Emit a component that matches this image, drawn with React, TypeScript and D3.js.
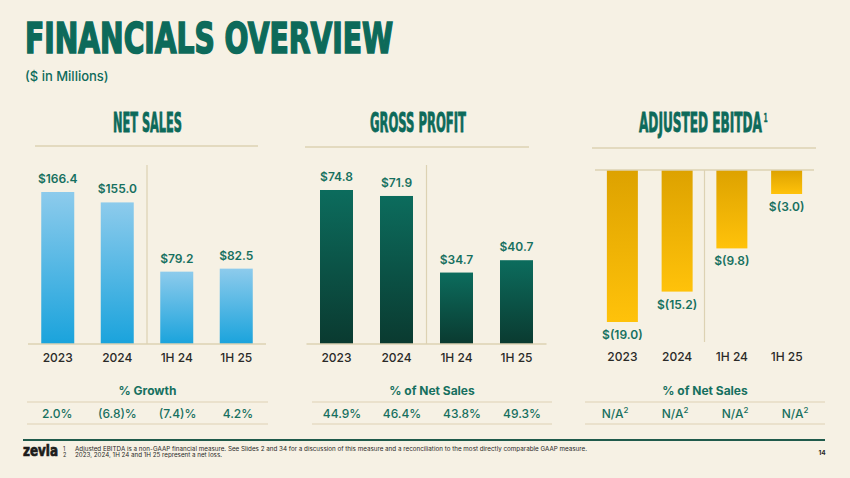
import React, { useLayoutEffect, useRef, useState } from "react";
import * as d3 from "d3";

const categories = ["2023", "2024", "1H 24", "1H 25"];
const netSales = [166.4, 155.0, 79.2, 82.5];
const grossProfit = [74.8, 71.9, 34.7, 40.7];
const adjEbitda = [-19.0, -15.2, -9.8, -3.0];
const growthLabels = ["2.0%", "(6.8)%", "(7.4)%", "4.2%"];
const gpMarginLabels = ["44.9%", "46.4%", "43.8%", "49.3%"];
const ebitdaMarginLabels = ["N/A", "N/A", "N/A", "N/A"];

const BG = "#f6f1e4";
const TEAL = "#0d6a5a";
const LABEL = "#16705f";
const DARK = "#2a2a28";
const TAN = "#ddd2b3";
const SANS = "Inter, 'Noto Sans', sans-serif";
const COND = "'Liberation Sans Narrow', 'Arial Narrow', 'DejaVu Sans Condensed', sans-serif";

const fmtPos = (v: number) => `$${v.toFixed(1)}`;
const fmtNeg = (v: number) => `$(${Math.abs(v).toFixed(1)})`;

type CondProps = {
  x: number;
  y: number;
  width: number;
  size: number;
  fill: string;
  strokeW: number;
  text: string;
  sup?: string;
};

function CondText(p: CondProps) {
  const ref = useRef<SVGTSpanElement>(null);
  const [k, setK] = useState(0.55);
  useLayoutEffect(() => {
    const el = ref.current;
    if (el) {
      const w = el.getComputedTextLength();
      if (w > 0) {
        const nk = p.width / w;
        if (Math.abs(nk - k) > 0.001) setK(nk);
      }
    }
  });
  return (
    <g transform={`translate(${p.x},${p.y}) scale(${k},1)`}>
      <text
        x={0}
        y={0}
        fontFamily={COND}
        fontWeight={700}
        fontSize={p.size}
        fill={p.fill}
        stroke={p.fill}
        strokeWidth={p.strokeW}
      >
        <tspan ref={ref}>{p.text}</tspan>
        {p.sup && (
          <tspan fontSize={p.size * 0.5} dx={p.size * 0.12} dy={-p.size * 0.38} strokeWidth={0.3}>
            {p.sup}
          </tspan>
        )}
      </text>
    </g>
  );
}

type PanelProps = {
  id: string;
  title: string;
  titleSup?: string;
  titleX: number;
  titleW: number;
  sepX: [number, number];
  sepY: number;
  range: [number, number];
  bw: number;
  values: number[];
  y: d3.ScaleLinear<number, number>;
  baseY: number;
  divTop: number;
  divBottom: number;
  grad: [string, string];
  negative?: boolean;
  catY: number;
  tableRange: [number, number];
  tableHeader: string;
  tableLabels: string[];
  tableSup?: string;
};

function Panel(p: PanelProps) {
  const step = (p.range[1] - p.range[0]) / 4;
  const pin = 1 - p.bw / step;
  const x = d3
    .scaleBand<string>()
    .domain(categories)
    .range(p.range)
    .paddingInner(pin)
    .paddingOuter(pin / 2);
  const divX = ((x(categories[1])! + x.bandwidth()) + x(categories[2])!) / 2;
  const tx = d3.scaleBand<string>().domain(categories).range(p.tableRange);
  const tableMid = (p.tableRange[0] + p.tableRange[1]) / 2;
  return (
    <g>
      <defs>
        <linearGradient id={p.id} x1="0" y1="0" x2="0" y2="1">
          <stop offset="0%" stopColor={p.grad[0]} />
          <stop offset="100%" stopColor={p.grad[1]} />
        </linearGradient>
      </defs>
      <CondText
        x={p.titleX}
        y={132}
        width={p.titleW}
        size={26}
        fill={TEAL}
        strokeWidth={0.6}
        strokeW={0.8}
        text={p.title}
        sup={p.titleSup}
      />
      <line x1={p.sepX[0]} x2={p.sepX[1]} y1={p.sepY} y2={p.sepY} stroke={TAN} strokeWidth={1.5} />
      <line x1={divX} x2={divX} y1={p.divTop} y2={p.divBottom} stroke={TAN} strokeWidth={1.2} />
      {p.values.map((v, i) => {
        const c = categories[i];
        const y0 = p.y(0);
        const y1 = p.y(v);
        const top = Math.min(y0, y1);
        const h = Math.abs(y1 - y0);
        const cx = x(c)! + x.bandwidth() / 2;
        return (
          <g key={c}>
            <rect x={x(c)} y={top} width={x.bandwidth()} height={h} fill={`url(#${p.id})`} />
            <text
              x={cx}
              y={p.negative ? y1 + 17 : y1 - 9}
              textAnchor="middle"
              fontFamily={SANS}
              fontWeight={600}
              fontSize={12}
              fill={LABEL}
            >
              {p.negative ? fmtNeg(v) : fmtPos(v)}
            </text>
            <text x={cx} y={p.catY} textAnchor="middle" fontFamily={SANS} fontWeight={500} fontSize={12} fill={DARK}>
              {c}
            </text>
          </g>
        );
      })}
      <line
        x1={p.range[0]}
        x2={p.range[1]}
        y1={p.baseY}
        y2={p.baseY}
        stroke={TAN}
        strokeWidth={1.5}
      />
      <text x={tableMid} y={395} textAnchor="middle" fontFamily={SANS} fontWeight={700} fontSize={12} fill={LABEL}>
        {p.tableHeader}
      </text>
      <line x1={p.tableRange[0]} x2={p.tableRange[1]} y1={402} y2={402} stroke={TAN} strokeWidth={1.2} />
      <line x1={p.tableRange[0]} x2={p.tableRange[1]} y1={424} y2={424} stroke={TAN} strokeWidth={1.2} />
      {p.tableLabels.map((t, i) => {
        const c = categories[i];
        const cx = tx(c)! + tx.bandwidth() / 2;
        return (
          <text key={c} x={cx} y={418} textAnchor="middle" fontFamily={SANS} fontWeight={500} fontSize={12} fill={LABEL}>
            {t}
            {p.tableSup && (
              <tspan fontSize={8} dy={-5}>
                {p.tableSup}
              </tspan>
            )}
          </text>
        );
      })}
    </g>
  );
}

export default function App() {
  const yNS = d3.scaleLinear().domain([0, 166.4]).range([344, 192]);
  const yGP = d3.scaleLinear().domain([0, 74.8]).range([344, 190]);
  const yEB = d3.scaleLinear().domain([0, -19]).range([170, 322]);
  return (
    <svg width={850} height={478} style={{ position: "absolute", left: 0, top: 0, display: "block" }}>
      <rect x={0} y={0} width={850} height={478} fill={BG} />
      <CondText x={25} y={53} width={368} size={42} fill={TEAL} strokeW={1.6} text="FINANCIALS OVERVIEW" />
      <text x={25} y={81} fontFamily={SANS} fontWeight={500} fontSize={13} fill={TEAL}>
        ($ in Millions)
      </text>

      <Panel
        id="gNS"
        title="NET SALES"
        titleX={113}
        titleW={69}
        sepX={[35, 258]}
        sepY={146}
        range={[28, 266]}
        bw={33}
        values={netSales}
        y={yNS}
        baseY={344}
        divTop={165}
        divBottom={344}
        grad={["#8dcbec", "#1aa3dc"]}
        catY={362}
        tableRange={[27, 268]}
        tableHeader="% Growth"
        tableLabels={growthLabels}
      />
      <Panel
        id="gGP"
        title="GROSS PROFIT"
        titleX={370}
        titleW={96}
        sepX={[305, 529]}
        sepY={147}
        range={[306.5, 546.5]}
        bw={33}
        values={grossProfit}
        y={yGP}
        baseY={344}
        divTop={165}
        divBottom={344}
        grad={["#0c6c5d", "#0a3a30"]}
        catY={362}
        tableRange={[312, 552]}
        tableHeader="% of Net Sales"
        tableLabels={gpMarginLabels}
      />
      <Panel
        id="gEB"
        title="ADJUSTED EBITDA"
        titleSup="1"
        titleX={639}
        titleW={123}
        sepX={[592, 816]}
        sepY={148}
        range={[595, 814]}
        bw={31}
        values={adjEbitda}
        y={yEB}
        baseY={170}
        divTop={170}
        divBottom={342}
        grad={["#dda200", "#ffc20a"]}
        negative
        catY={361}
        tableRange={[585, 825]}
        tableHeader="% of Net Sales"
        tableLabels={ebitdaMarginLabels}
        tableSup="2"
      />

      <line x1={23} x2={825} y1={440} y2={440} stroke="#1f5a4b" strokeWidth={2} />
      <CondText x={23} y={456} width={35} size={15} fill="#1c1c1a" strokeW={0.7} text="zevia" />
      <text x={63} y={451} fontFamily={SANS} fontSize={5.5} fill={DARK}>1</text>
      <text
        x={75}
        y={451}
        fontFamily={SANS}
        fontSize={5.5}
        fill={DARK}
        textLength={512}
        lengthAdjust="spacingAndGlyphs"
      >
        Adjusted EBITDA is a non-GAAP financial measure. See Slides 2 and 34 for a discussion of this measure and a reconciliation to the most directly comparable GAAP measure.
      </text>
      <text x={63} y={457} fontFamily={SANS} fontSize={5.5} fill={DARK}>2</text>
      <text
        x={75}
        y={457}
        fontFamily={SANS}
        fontSize={5.5}
        fill={DARK}
        textLength={147}
        lengthAdjust="spacingAndGlyphs"
      >
        2023, 2024, 1H 24 and 1H 25 represent a net loss.
      </text>
      <text x={822} y={455} textAnchor="middle" fontFamily={SANS} fontWeight={700} fontSize={6.5} fill={DARK}>
        14
      </text>
    </svg>
  );
}
